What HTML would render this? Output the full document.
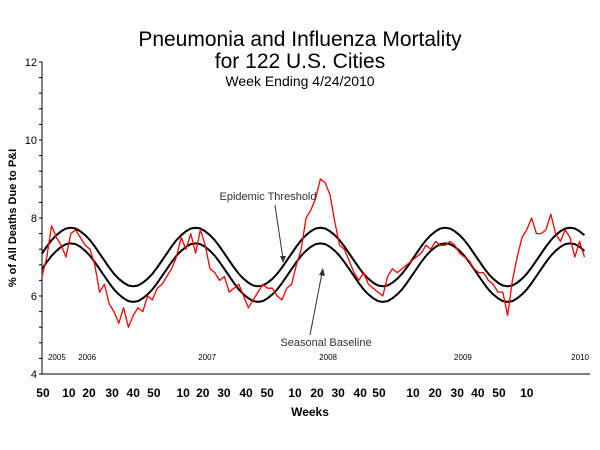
<!DOCTYPE html>
<html><head><meta charset="utf-8"><style>
body{margin:0;background:#fff;}
svg{display:block;font-family:"Liberation Sans",Arial,sans-serif;}
</style></head><body>
<svg id="chart" width="600" height="450">
<text x="300" y="46" font-size="21" text-anchor="middle">Pneumonia and Influenza Mortality</text>
<text x="300" y="68" font-size="21" text-anchor="middle">for 122 U.S. Cities</text>
<text x="300" y="86" font-size="14" text-anchor="middle">Week Ending 4/24/2010</text>
<text transform="translate(16,218) rotate(-90)" font-size="11" font-weight="bold" text-anchor="middle">% of All Deaths Due to P&amp;I</text>
<text x="310" y="416" font-size="12" font-weight="bold" text-anchor="middle">Weeks</text>
<g id="axes"></g><g id="series"></g>
<text x="268" y="200" font-size="11" fill="#333" text-anchor="middle">Epidemic Threshold</text>
<line x1="275" y1="205" x2="283" y2="259" stroke="#333" stroke-width="1"/>
<polygon points="283,263 280,256 286,256" fill="#333"/>
<text x="326" y="346" font-size="11" fill="#333" text-anchor="middle">Seasonal Baseline</text>
<line x1="310" y1="335" x2="322" y2="273" stroke="#333" stroke-width="1"/>
<polygon points="323,268 325,276 319,275" fill="#333"/>
</svg>
<script>
const observed=[6.5,7.0,7.8,7.5,7.3,7.0,7.6,7.7,7.5,7.3,7.2,6.8,6.1,6.3,5.8,5.6,5.3,5.7,5.2,5.5,5.7,5.6,6.0,5.9,6.2,6.3,6.5,6.7,7.0,7.5,7.2,7.6,7.1,7.7,7.3,6.7,6.6,6.4,6.5,6.1,6.2,6.3,6.0,5.7,5.9,6.1,6.3,6.2,6.2,6.0,5.9,6.2,6.3,6.8,7.2,8.0,8.2,8.5,9.0,8.9,8.6,7.9,7.3,7.2,6.9,6.6,6.4,6.6,6.3,6.2,6.1,6.0,6.5,6.7,6.6,6.7,6.8,6.9,7.0,7.1,7.3,7.2,7.4,7.3,7.3,7.4,7.3,7.1,7.0,6.9,6.7,6.6,6.6,6.4,6.3,6.1,6.1,5.5,6.4,7.0,7.5,7.7,8.0,7.6,7.6,7.7,8.1,7.6,7.4,7.7,7.5,7.0,7.4,7.0];
const baseline=[6.69,6.87,7.03,7.16,7.26,7.33,7.35,7.33,7.26,7.16,7.03,6.87,6.69,6.51,6.33,6.17,6.04,5.94,5.87,5.85,5.87,5.94,6.04,6.17,6.33,6.51,
6.69,6.87,7.03,7.16,7.26,7.33,7.35,7.33,7.26,7.16,7.03,6.87,6.69,6.51,6.33,6.17,6.04,5.94,5.87,5.85,5.87,5.94,6.04,6.17,6.33,6.51,
6.69,6.87,7.03,7.16,7.26,7.33,7.35,7.33,7.26,7.16,7.03,6.87,6.69,6.51,6.33,6.17,6.04,5.94,5.87,5.85,5.87,5.94,6.04,6.17,6.33,6.51,
6.69,6.87,7.03,7.16,7.26,7.33,7.35,7.33,7.26,7.16,7.03,6.87,6.69,6.51,6.33,6.17,6.04,5.94,5.87,5.85,5.87,5.94,6.04,6.17,6.33,6.51,
6.69,6.87,7.03,7.16,7.26,7.33,7.35,7.33,7.26,7.16];
const threshold=[7.09,7.27,7.43,7.56,7.66,7.73,7.75,7.73,7.66,7.56,7.43,7.27,7.09,6.91,6.73,6.57,6.44,6.34,6.27,6.25,6.27,6.34,6.44,6.57,6.73,6.91,
7.09,7.27,7.43,7.56,7.66,7.73,7.75,7.73,7.66,7.56,7.43,7.27,7.09,6.91,6.73,6.57,6.44,6.34,6.27,6.25,6.27,6.34,6.44,6.57,6.73,6.91,
7.09,7.27,7.43,7.56,7.66,7.73,7.75,7.73,7.66,7.56,7.43,7.27,7.09,6.91,6.73,6.57,6.44,6.34,6.27,6.25,6.27,6.34,6.44,6.57,6.73,6.91,
7.09,7.27,7.43,7.56,7.66,7.73,7.75,7.73,7.66,7.56,7.43,7.27,7.09,6.91,6.73,6.57,6.44,6.34,6.27,6.25,6.27,6.34,6.44,6.57,6.73,6.91,
7.09,7.27,7.43,7.56,7.66,7.73,7.75,7.73,7.66,7.56];
const weekLabels=["50","10","20","30","40","50","10","20","30","40","50","10","20","30","40","50","10","20","30","40","50","10"];
const weekTickIdx=[0.2,5.6,9.8,14.6,19,23.3,29.4,33.5,37.9,42.5,46.9,52.7,57.3,61.7,66.3,70.2,77.3,81.9,86.5,90.8,95.2,101];
const yearLabels=["2005","2006","2007","2008","2009","2010"];
const yearIdx=[3.1,9.4,34.4,59.6,87.7,112.1];
const yTicks=[4,6,8,10,12];

const NS="http://www.w3.org/2000/svg";
const X0=42,XS=4.8,Y0=374,YS=39;
const xS=i=>X0+i*XS;
const yS=v=>Y0-(v-4)*YS;
const axes=document.getElementById('axes'),ser=document.getElementById('series');
function mk(tag,attrs,parent,txt){const e=document.createElementNS(NS,tag);for(const k in attrs)e.setAttribute(k,attrs[k]);if(txt!==undefined)e.textContent=txt;parent.appendChild(e);return e;}
let e=mk('line',{x1:X0,y1:yS(12),x2:X0,y2:Y0,stroke:'#000'},axes);


e=mk('line',{x1:X0,y1:Y0,x2:590,y2:Y0,stroke:'#000'},axes);


for(let v=4;v<=12.001;v+=0.4){
  e=mk('line',{x1:X0-3,y1:yS(v),x2:X0,y2:yS(v),stroke:'#000'},axes);
  
  
}
yTicks.forEach(v=>{
  e=mk('text',{x:X0-5,y:yS(v)+4,'font-size':11,'text-anchor':'end'},axes,String(v));
  
  
});
weekLabels.forEach((l,k)=>{
  e=mk('text',{x:xS(weekTickIdx[k]),y:397,'font-size':12,'font-weight':'bold','text-anchor':'middle'},axes,l);
  
  
});
yearLabels.forEach((l,k)=>{
  e=mk('text',{x:xS(yearIdx[k]),y:360,'font-size':8,'text-anchor':'middle'},axes,l);
  
  
});
function line(arr,color,w,name){
  const d=arr.map((v,i)=>(i?'L':'M')+xS(i).toFixed(1)+','+yS(v).toFixed(1)).join('');
  const p=mk('path',{d:d,fill:'none',stroke:color,'stroke-width':w,'stroke-linejoin':'round'},ser);
  
  
}
line(threshold,'#000',2,'epidemic-threshold-line');
line(baseline,'#000',2,'seasonal-baseline-line');
line(observed,'#ff0000',1.3,'observed-mortality-line');
</script>
</body></html>
